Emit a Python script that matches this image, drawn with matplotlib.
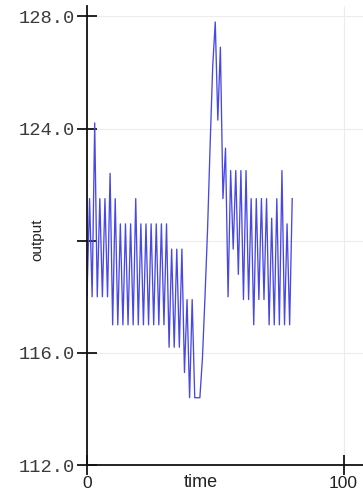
import matplotlib
matplotlib.use('agg')
import matplotlib.pyplot as plt
import numpy as np

# output value at each time step
output = [
    118.0, 121.5, 118.0, 124.2, 118.0, 121.5, 118.0, 121.5, 118.0, 122.4,
    117.0, 121.5, 117.0, 120.6, 117.0, 120.6, 117.0, 120.6, 117.0, 121.5,
    117.0, 120.6, 117.0, 120.6, 117.0, 120.6, 117.0, 120.6, 117.0, 120.6,
    117.0, 120.6, 116.2, 119.7, 116.2, 119.7, 116.2, 119.7, 115.3, 117.9,
    114.4, 117.9, 114.4, 114.4, 114.4, 115.8, 118.0, 120.4, 123.4, 126.2,
    127.8, 124.3, 126.9, 121.5, 123.3, 118.0, 122.5, 119.7, 122.5, 118.8,
    122.5, 117.9, 122.5, 117.9, 121.5, 117.0, 121.5, 117.9, 121.5, 117.9,
    121.5, 117.0, 120.8, 117.0, 121.5, 117.0, 122.5, 117.0, 120.6, 117.0,
    121.5,
]
time = np.arange(len(output))

y_ticks = [112, 116, 120, 124, 128]
y_labels = ['112.0', '116.0', '', '124.0', '128.0']
x_ticks = [0, 100]
x_labels = ['0', '100']

W, H = 363, 491
fig = plt.figure(figsize=(W / 100, H / 100), dpi=100)
ax = fig.add_axes([87 / W, (H - 465) / H, (W - 87) / W, (465 - 6) / H])

ax.plot(time, output, color='#4848e4', linewidth=0.95)

ax.set_xlim(0, 107.6)
ax.set_ylim(112, 128.37)

ax.set_yticks(y_ticks)
ax.set_yticklabels(y_labels, family='Liberation Mono', fontsize=13.5, color='#3a3a3a')
ax.set_xticks(x_ticks)
ax.set_xticklabels(x_labels, family='Liberation Sans', fontsize=12.5, color='#222222')

ax.tick_params(axis='y', direction='inout', length=14, width=1.2, pad=2)
ax.tick_params(axis='x', direction='inout', length=14, width=1.2, pad=1)

for s in ['top', 'right']:
    ax.spines[s].set_visible(False)
for s in ['left', 'bottom']:
    ax.spines[s].set_linewidth(1.3)
    ax.spines[s].set_color('#111111')

ax.grid(True, color='#ececec', linewidth=0.8)
ax.set_axisbelow(True)

ax.set_xlabel('time', family='Liberation Sans', fontsize=13, color='#222222')
ax.xaxis.set_label_coords((201 - 87) / (W - 87), -(487 - 465) / (465 - 6), transform=ax.transAxes)
ax.xaxis.label.set_verticalalignment('baseline')
ax.set_ylabel('output', family='Liberation Sans', fontsize=11, color='#222222')
ax.yaxis.set_label_coords(-(87 - 44) / (W - 87), (465 - 240) / (465 - 6))

fig.savefig('out.png', dpi=100)
